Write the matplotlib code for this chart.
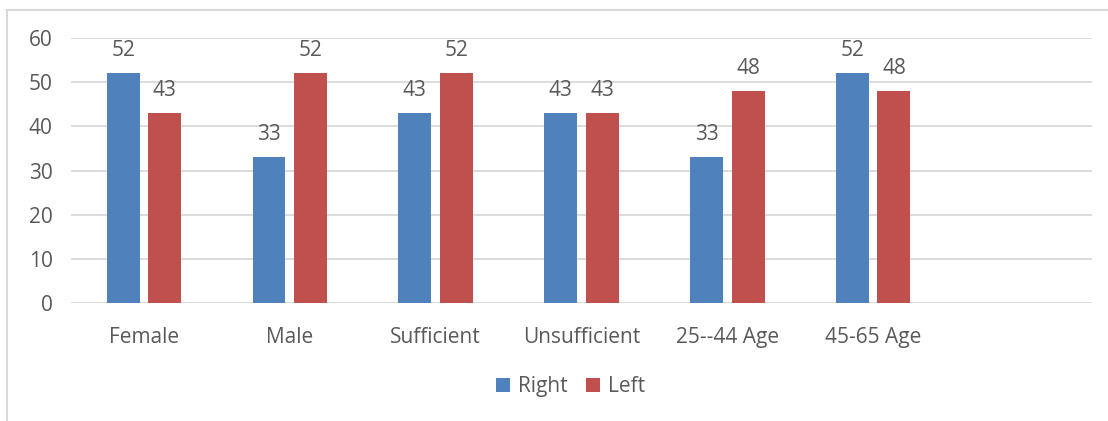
import matplotlib.pyplot as plt
import numpy as np

# Chart data
categories = ["Female", "Male", "Sufficient", "Unsufficient", "25--44 Age", "45-65 Age", ""]
right_vals = [52, 33, 43, 43, 33, 52]
left_vals = [43, 52, 52, 43, 48, 48]
y_ticks = [0, 10, 20, 30, 40, 50, 60]

blue = "#4F81BD"
red = "#C0504D"
text_col = "#595959"
grid_col = "#D9D9D9"
fs = 15

plt.rcParams["font.family"] = ["Open Sans", "DejaVu Sans"]

fig = plt.figure(figsize=(11.08, 4.21), dpi=100)
ax = fig.add_axes([0.064, 0.2803, 0.9216, 0.6294])

x = np.arange(len(right_vals))
w = 0.226
off = 0.142
b1 = ax.bar(x - off, right_vals, w, color=blue, label="Right", zorder=3)
b2 = ax.bar(x + off, left_vals, w, color=red, label="Left", zorder=3)

# value labels above bars
for bars, vals in [(b1, right_vals), (b2, left_vals)]:
    for rect, v in zip(bars, vals):
        ax.annotate(str(v), (rect.get_x() + rect.get_width() / 2, v),
                    xytext=(0, 9), textcoords="offset points",
                    ha="center", va="bottom", fontsize=fs, color=text_col)

ax.set_xlim(-0.5, len(categories) - 0.5)
ax.set_ylim(0, 60)
ax.set_yticks(y_ticks)
ax.set_xticks(range(len(categories)))
ax.set_xticklabels(categories)
ax.tick_params(axis="both", length=0, labelsize=fs, colors=text_col)
ax.tick_params(axis="x", pad=17)
ax.tick_params(axis="y", pad=13)
ax.yaxis.grid(True, color=grid_col, linewidth=1.3, zorder=0)
for s in ax.spines.values():
    s.set_visible(False)

leg = fig.legend(handles=[b1, b2], loc="center", bbox_to_anchor=(0.515, 0.081),
                 ncol=2, frameon=False, fontsize=fs, handlelength=0.65,
                 handleheight=0.65, handletextpad=0.4, columnspacing=0.9)
for t in leg.get_texts():
    t.set_color(text_col)

# outer chart frame
fig.add_artist(plt.Line2D([7 / 1108, 7 / 1108], [0, 1 - 10 / 421],
                          transform=fig.transFigure, color=grid_col, linewidth=1.5))
fig.add_artist(plt.Line2D([7 / 1108, 1], [1 - 10 / 421, 1 - 10 / 421],
                          transform=fig.transFigure, color=grid_col, linewidth=1.5))

fig.savefig("out.png", dpi=100)
